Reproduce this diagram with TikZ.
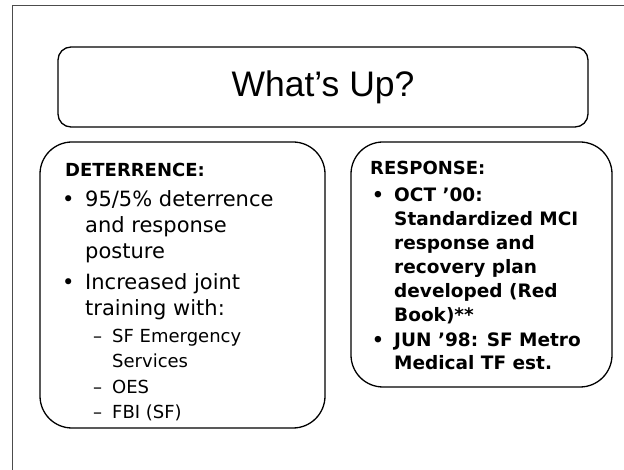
\documentclass[tikz,border=0pt]{standalone}
\usepackage{fontspec}
\setmainfont{DejaVu Sans}
\newfontfamily\titlefont{Liberation Sans}
\usetikzlibrary{positioning}

\tikzset{
  panel/.style={draw=black,line width=1.3pt,rounded corners=32pt},
  headtext/.style={anchor=base west,inner sep=0pt,font=\bfseries\fontsize{18}{22}\selectfont},
  bodytext/.style={anchor=base west,inner sep=0pt,font=\fontsize{21}{25}\selectfont},
  subtext/.style={anchor=base west,inner sep=0pt,font=\fontsize{18}{21}\selectfont},
  resptext/.style={anchor=base west,inner sep=0pt,font=\bfseries\fontsize{18.5}{23}\selectfont}
}

\begin{document}
\begin{tikzpicture}[x=1pt,y=-1pt]
	\useasboundingbox (0,0) rectangle (624,470);
	%SLIDE FRAME
	\coordinate (fbl) at (12.5,470);
	\coordinate (ftl) at (12.5,5);
	\coordinate (ftr) at (624,5);
	\draw[black!70,line width=0.9pt] (fbl) -- (ftl) -- (ftr);
	%TITLE
	\node[draw=black,line width=1.3pt,rounded corners=13pt,minimum width=530pt,minimum height=80pt,
	font=\titlefont\fontsize{35.5}{40}\selectfont] (title) at (323,87) {What’s Up?};
	%DETERRENCE
	\node[panel,minimum width=285pt,minimum height=286pt] (detbox) at (182.5,285) {};
	\node[headtext] (dethead) at (65,177) {DETERRENCE:};
	\node[bodytext] (detb1) at (62,207) {•};
	\node[bodytext] (detb2) at (62,290) {•};
	\foreach \ypos/\txt [count=\i] in {207/{95/5\% deterrence},233/{and response},259/{posture},
		290/{Increased joint},316/{training with:}}
	\node[bodytext] (det\i) at (85,\ypos) {\txt};
	\foreach \ypos/\txt [count=\i] in {343/{SF Emergency},367/{Services},393/{OES},418/{FBI (SF)}}
	\node[subtext] (sub\i) at (112,\ypos) {\txt};
	\foreach \ypos [count=\i] in {343,393,418}
	\node[subtext] (dash\i) at (93,\ypos) {–};
	%RESPONSE
	\node[panel,minimum width=261pt,minimum height=245pt] (respbox) at (481.5,264.5) {};
	\node[headtext] (resphead) at (370,175) {RESPONSE:};
	\node[resptext] (respb1) at (372,202) {•};
	\node[resptext] (respb2) at (372,347) {•};
	\foreach \ypos/\txt [count=\i] in {202/{OCT ’00:},226/{Standardized MCI},250/{response and},
		274/{recovery plan},298/{developed (Red},322/{Book)**},347/{JUN ’98: SF Metro},370/{Medical TF est.}}
	\node[resptext] (resp\i) at (394,\ypos) {\txt};
\end{tikzpicture}
\end{document}
